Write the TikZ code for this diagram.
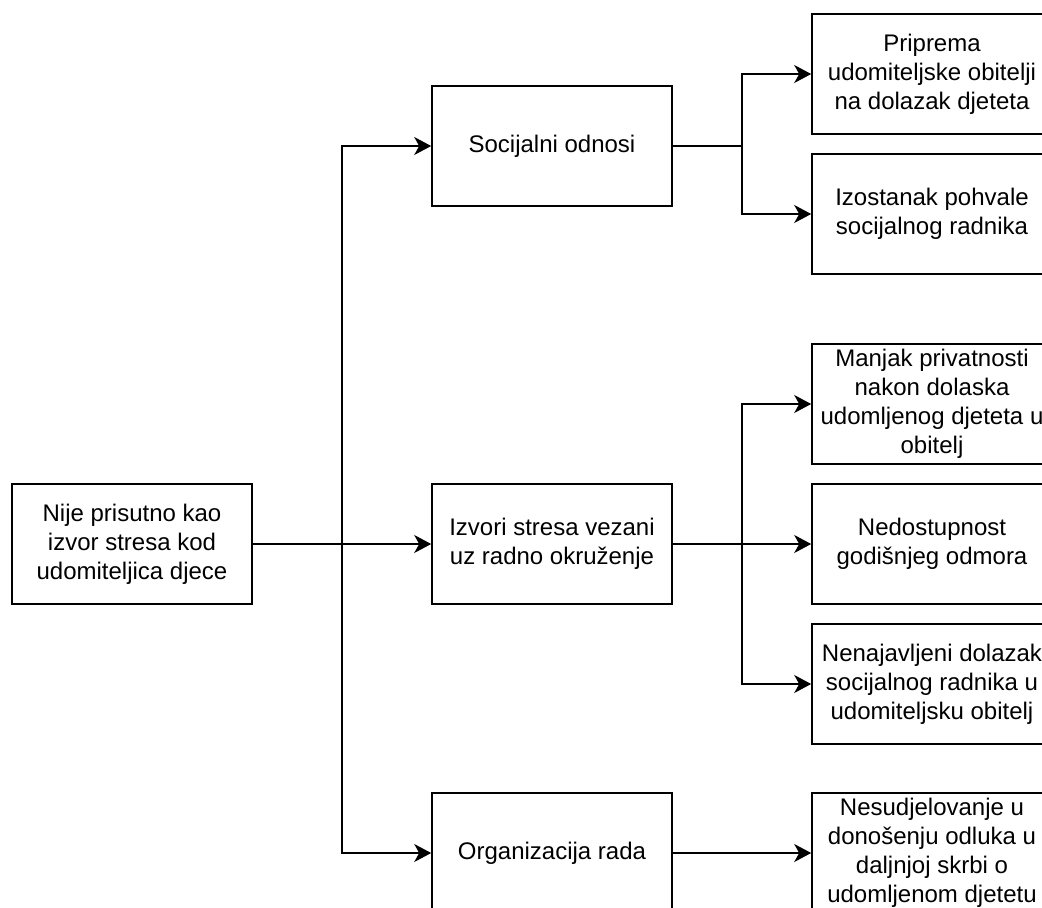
\documentclass[tikz,border=0pt]{standalone}
\usepackage{fontspec}
\setmainfont{Liberation Sans}
\usetikzlibrary{arrows.meta}

\begin{document}
\begin{tikzpicture}[x=1pt,y=-1pt,
    box/.style={draw, line width=1.6pt, minimum width=240pt, minimum height=120pt,
      inner sep=0pt, align=center, font=\fontsize{24}{29}\selectfont},
    arr/.style={line width=1.6pt, -{Stealth[length=17pt,width=18pt,inset=5pt]}}]
    \clip (0,0) rectangle (1042,908);
    % root
    \node[box] (root) at (132,544) {Nije prisutno kao\\izvor stresa kod\\udomiteljica djece};
    % middle column
    \node[box] (soc) at (552,146) {Socijalni odnosi};
    \node[box] (izv) at (552,544) {Izvori stresa vezani\\uz radno okruženje};
    \node[box] (org) at (552,853) {Organizacija rada};
    % right column
    \node[box] (pri) at (932,74) {Priprema\\udomiteljske obitelji\\na dolazak djeteta};
    \node[box] (izo) at (932,214) {Izostanak pohvale\\socijalnog radnika};
    \node[box] (man) at (932,404) {Manjak privatnosti\\nakon dolaska\\udomljenog djeteta u\\obitelj};
    \node[box] (ned) at (932,544) {Nedostupnost\\godišnjeg odmora};
    \node[box] (nen) at (932,684) {Nenajavljeni dolazak\\socijalnog radnika u\\udomiteljsku obitelj};
    \node[box] (nes) at (932,853) {Nesudjelovanje u\\donošenju odluka u\\daljnjoj skrbi o\\udomljenom djetetu};
    % branch points
    \coordinate (trunk) at (342,544);
    \coordinate (split1) at (742,146);
    \coordinate (split2) at (742,544);
    % root to middle
    \draw[arr] (root.east) -- (trunk) |- (soc.west);
    \draw[arr] (root.east) -- (izv.west);
    \draw[arr] (trunk) |- (org.west);
    % middle to right
    \draw[arr] (soc.east) -- (split1) |- (pri.west);
    \draw[arr] (split1) |- (izo.west);
    \draw[arr] (izv.east) -- (split2) |- (man.west);
    \draw[arr] (izv.east) -- (ned.west);
    \draw[arr] (split2) |- (nen.west);
    \draw[arr] (org.east) -- (nes.west);
\end{tikzpicture}
\end{document}
